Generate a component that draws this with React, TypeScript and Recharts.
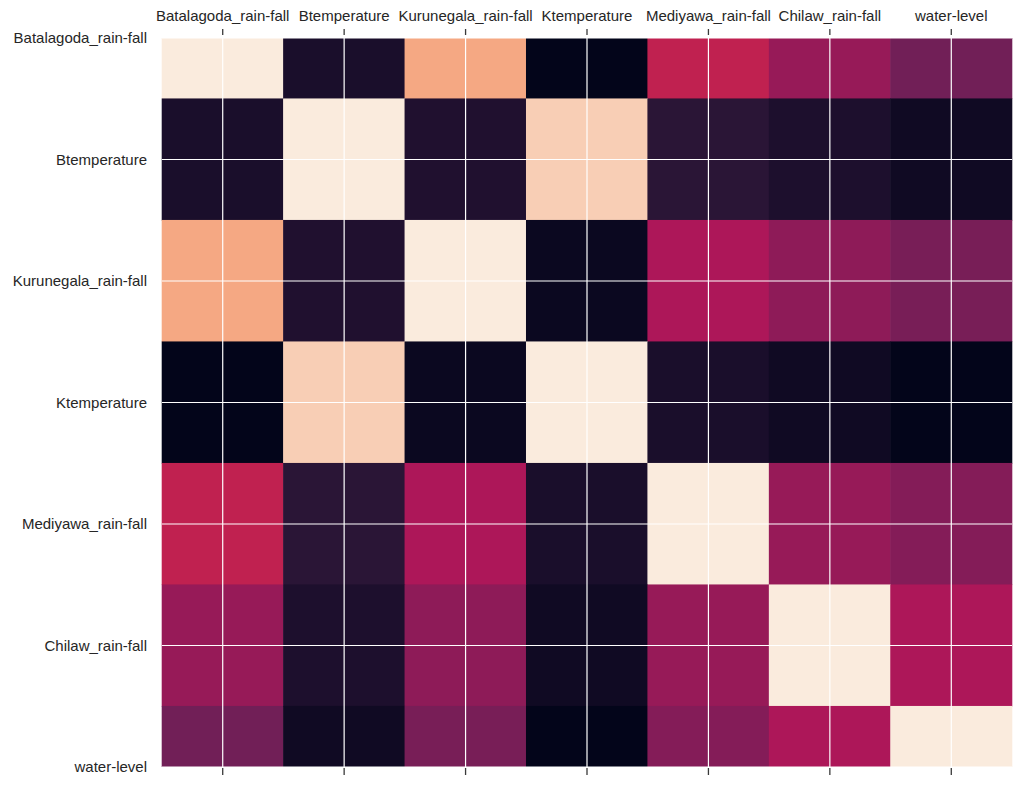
import { ScatterChart, Scatter, XAxis, YAxis, ReferenceLine } from "recharts";

const LABELS = [
  "Batalagoda_rain-fall",
  "Btemperature",
  "Kurunegala_rain-fall",
  "Ktemperature",
  "Mediyawa_rain-fall",
  "Chilaw_rain-fall",
  "water-level",
];

// correlation matrix
const CORR: number[][] = [
  [1, -0.26, 0.77, -0.35, 0.3, 0.16, 0.04],
  [-0.26, 1, -0.24, 0.9, -0.2, -0.25, -0.3],
  [0.77, -0.24, 1, -0.32, 0.23, 0.13, 0.06],
  [-0.35, 0.9, -0.32, 1, -0.26, -0.3, -0.35],
  [0.3, -0.2, 0.23, -0.26, 1, 0.16, 0.1],
  [0.16, -0.25, 0.13, -0.3, 0.16, 1, 0.23],
  [0.04, -0.3, 0.06, -0.35, 0.1, 0.23, 1],
];

const TICKS = [0, 1, 2, 3, 4, 5, 6];

// seaborn "rocket" colormap anchors
const ROCKET: [number, string][] = [
  [0, "#03051A"],
  [1 / 7, "#35193E"],
  [2 / 7, "#701F57"],
  [3 / 7, "#AD1759"],
  [4 / 7, "#E13342"],
  [5 / 7, "#F37651"],
  [6 / 7, "#F6B48F"],
  [1, "#FAEBDD"],
];

const hex = (h: string) => [1, 3, 5].map((i) => parseInt(h.slice(i, i + 2), 16));

function rocket(t: number) {
  const v = Math.max(0, Math.min(1, t));
  for (let i = 1; i < ROCKET.length; i++) {
    const [p1, c1] = ROCKET[i];
    if (v <= p1) {
      const [p0, c0] = ROCKET[i - 1];
      const f = (v - p0) / (p1 - p0);
      const a = hex(c0);
      const b = hex(c1);
      const rgb = a.map((x, k) => Math.round(x + (b[k] - x) * f));
      return `rgb(${rgb.join(",")})`;
    }
  }
  return ROCKET[ROCKET.length - 1][1];
}

const flat = CORR.flat();
const VMIN = Math.min(...flat);
const VMAX = Math.max(...flat);

const data = CORR.flatMap((row, r) =>
  row.map((v, c) => ({ x: c, y: r, v }))
);

const PLOT_W = 850;
const PLOT_H = 729;
const CELL_W = PLOT_W / 7;
const CELL_H = PLOT_H / 6;
const FONT = "'Liberation Sans', Arial, sans-serif";
const TEXT = "#262626";
const TICK = "#3a3a3a";

function Cell(props: any) {
  const { cx, cy, payload } = props;
  if (cx == null || cy == null) return <g />;
  const fill = rocket((payload.v - VMIN) / (VMAX - VMIN));
  return (
    <rect
      x={cx - CELL_W / 2 - 0.3}
      y={cy - CELL_H / 2 - 0.3}
      width={CELL_W + 0.6}
      height={CELL_H + 0.6}
      fill={fill}
    />
  );
}

function TopTick(props: any) {
  const { x, y, payload } = props;
  return (
    <g>
      <line x1={x} x2={x} y1={y - 3} y2={y - 9} stroke={TICK} strokeWidth={1.3} />
      <text x={x} y={y - 17} textAnchor="middle" fontSize={15} fontFamily={FONT} fill={TEXT}>
        {LABELS[payload.value]}
      </text>
    </g>
  );
}

function BottomTick(props: any) {
  const { x, y } = props;
  return <line x1={x} x2={x} y1={y + 1} y2={y + 8} stroke={TICK} strokeWidth={1.3} />;
}

function LeftTick(props: any) {
  const { x, y, payload } = props;
  return (
    <text x={x - 15} y={y} dy="0.35em" textAnchor="end" fontSize={15} fontFamily={FONT} fill={TEXT}>
      {LABELS[payload.value]}
    </text>
  );
}

export default function App() {
  return (
    <ScatterChart
      width={1015}
      height={778}
      margin={{ top: 0, right: 11, bottom: 7, left: 0 }}
    >
      <XAxis
        xAxisId="top"
        orientation="top"
        type="number"
        dataKey="x"
        domain={[-0.5, 6.5]}
        ticks={TICKS}
        height={30}
        axisLine={false}
        tickLine={false}
        tickSize={0}
        tickMargin={0}
        tick={<TopTick />}
        interval={0}
      />
      <XAxis
        xAxisId="bottom"
        orientation="bottom"
        type="number"
        dataKey="x"
        domain={[-0.5, 6.5]}
        ticks={TICKS}
        height={12}
        axisLine={false}
        tickLine={false}
        tickSize={0}
        tickMargin={0}
        tick={<BottomTick />}
        interval={0}
      />
      <YAxis
        type="number"
        dataKey="y"
        domain={[0, 6]}
        reversed
        allowDataOverflow
        ticks={TICKS}
        width={154}
        axisLine={false}
        tickLine={false}
        tickSize={0}
        tickMargin={0}
        tick={<LeftTick />}
        interval={0}
      />
      <Scatter
        data={data}
        xAxisId="top"
        shape={<Cell />}
        isAnimationActive={false}
      />
      <Scatter
        data={data}
        xAxisId="bottom"
        shape={() => <g />}
        isAnimationActive={false}
      />
      {TICKS.map((t) => (
        <ReferenceLine
          key={`vx${t}`}
          xAxisId="top"
          x={t}
          stroke="#ffffff"
          strokeWidth={1.2}
          zIndex={1500}
        />
      ))}
      {TICKS.map((t) => (
        <ReferenceLine
          key={`hy${t}`}
          xAxisId="top"
          y={t}
          stroke="#ffffff"
          strokeWidth={1.2}
          zIndex={1500}
        />
      ))}
    </ScatterChart>
  );
}
